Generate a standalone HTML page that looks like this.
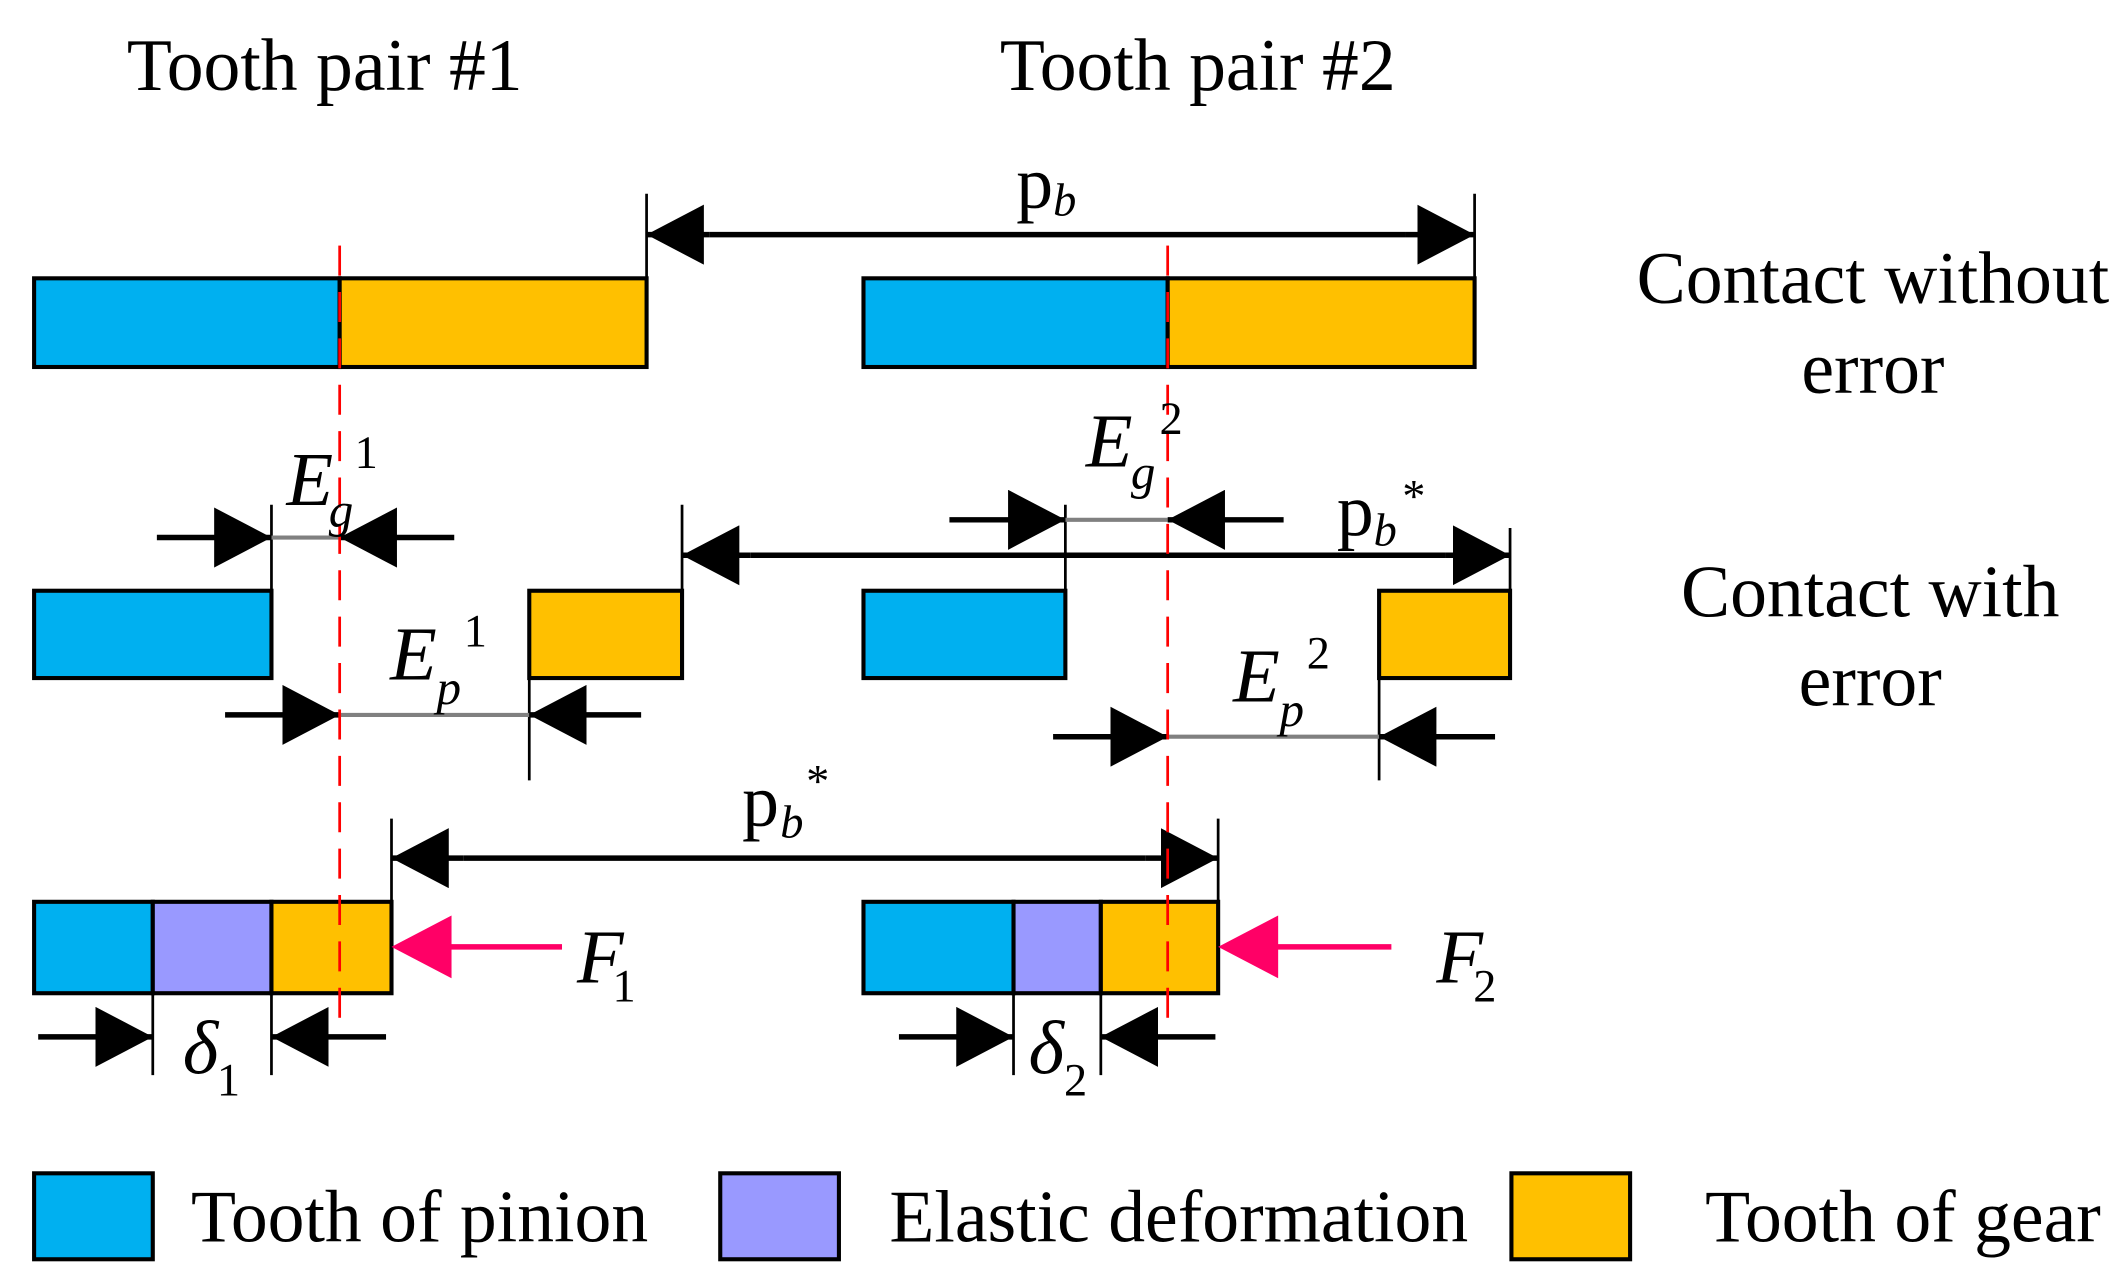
<!DOCTYPE html>
<html><head><meta charset="utf-8"><style>html,body{margin:0;padding:0;background:#fff;}svg{display:block}</style></head>
<body>
<svg width="2128" height="1277" viewBox="0 0 1560 936" preserveAspectRatio="none" xmlns="http://www.w3.org/2000/svg" font-family="'Liberation Serif', serif">
<defs>
<marker id="ah" markerWidth="42" markerHeight="44" refX="42" refY="22" orient="auto" markerUnits="userSpaceOnUse" viewBox="0 0 42 44"><path d="M0,0 L42,22 L0,44 z" fill="#000"/></marker>
</defs>
<g font-size="54" fill="#000">
<text x="93" y="66">Tooth pair #1</text>
<text x="733" y="66">Tooth pair #2</text>
<text x="1373" y="222" text-anchor="middle">Contact without</text>
<text x="1373" y="288" text-anchor="middle">error</text>
<text x="1371" y="452" text-anchor="middle">Contact with</text>
<text x="1371" y="517" text-anchor="middle">error</text>
<text x="140" y="910">Tooth of pinion</text>
<text x="652" y="910">Elastic deformation</text>
<text x="1250" y="910">Tooth of gear</text>
</g>
<g stroke="#000" stroke-width="3">
<rect x="25" y="204" width="224" height="65" fill="#00B0F0"/>
<rect x="249" y="204" width="225" height="65" fill="#FFC000"/>
<rect x="633" y="204" width="223" height="65" fill="#00B0F0"/>
<rect x="856" y="204" width="225" height="65" fill="#FFC000"/>
<rect x="25" y="433" width="174" height="64" fill="#00B0F0"/>
<rect x="388" y="433" width="112" height="64" fill="#FFC000"/>
<rect x="633" y="433" width="148" height="64" fill="#00B0F0"/>
<rect x="1011" y="433" width="96" height="64" fill="#FFC000"/>
<rect x="25" y="661" width="87" height="67" fill="#00B0F0"/>
<rect x="112" y="661" width="87" height="67" fill="#9999FF"/>
<rect x="199" y="661" width="88" height="67" fill="#FFC000"/>
<rect x="633" y="661" width="110" height="67" fill="#00B0F0"/>
<rect x="743" y="661" width="64" height="67" fill="#9999FF"/>
<rect x="807" y="661" width="86" height="67" fill="#FFC000"/>
<rect x="25" y="860" width="87" height="63" fill="#00B0F0"/>
<rect x="528" y="860" width="87" height="63" fill="#9999FF"/>
<rect x="1108" y="860" width="87" height="63" fill="#FFC000"/>
</g>
<g stroke="#000" stroke-width="2" fill="none">
<line x1="474" y1="142" x2="474" y2="204"/>
<line x1="1081" y1="142" x2="1081" y2="204"/>
<line x1="199" y1="370" x2="199" y2="433"/>
<line x1="500" y1="370" x2="500" y2="433"/>
<line x1="781" y1="370" x2="781" y2="433"/>
<line x1="1107" y1="387" x2="1107" y2="433"/>
<line x1="388" y1="497" x2="388" y2="572"/>
<line x1="1011" y1="497" x2="1011" y2="572"/>
<line x1="287" y1="600" x2="287" y2="661"/>
<line x1="893" y1="600" x2="893" y2="661"/>
<line x1="112" y1="728" x2="112" y2="788"/>
<line x1="199" y1="728" x2="199" y2="788"/>
<line x1="743" y1="728" x2="743" y2="788"/>
<line x1="807" y1="728" x2="807" y2="788"/>
</g>
<g stroke="#808080" stroke-width="3">
<line x1="199" y1="394" x2="249" y2="394"/>
<line x1="781" y1="381" x2="856" y2="381"/>
<line x1="249" y1="524" x2="388" y2="524"/>
<line x1="856" y1="540" x2="1011" y2="540"/>
</g>
<g stroke="#000" stroke-width="4" marker-end="url(#ah)">
<line x1="520" y1="172" x2="474" y2="172"/>
<line x1="1030" y1="172" x2="1081" y2="172"/>
<line x1="550" y1="407" x2="500" y2="407"/>
<line x1="1060" y1="407" x2="1107" y2="407"/>
<line x1="340" y1="629" x2="287" y2="629"/>
<line x1="840" y1="629" x2="893" y2="629"/>
<line x1="115" y1="394" x2="199" y2="394"/>
<line x1="333" y1="394" x2="249" y2="394"/>
<line x1="696" y1="381" x2="781" y2="381"/>
<line x1="941" y1="381" x2="856" y2="381"/>
<line x1="165" y1="524" x2="249" y2="524"/>
<line x1="470" y1="524" x2="388" y2="524"/>
<line x1="772" y1="540" x2="856" y2="540"/>
<line x1="1096" y1="540" x2="1011" y2="540"/>
<line x1="28" y1="760" x2="112" y2="760"/>
<line x1="283" y1="760" x2="199" y2="760"/>
<line x1="659" y1="760" x2="743" y2="760"/>
<line x1="891" y1="760" x2="807" y2="760"/>
</g>
<g stroke="#000" stroke-width="4">
<line x1="520" y1="172" x2="1030" y2="172"/>
<line x1="550" y1="407" x2="1060" y2="407"/>
<line x1="340" y1="629" x2="840" y2="629"/>
</g>
<g stroke="#FF0066" stroke-width="4">
<line x1="412" y1="694" x2="325" y2="694"/>
<line x1="1020" y1="694" x2="933" y2="694"/>
</g>
<path d="M287,694 L331,671 L331,717 z" fill="#FF0066"/>
<path d="M893,694 L937,671 L937,717 z" fill="#FF0066"/>
<g stroke="#FF0000" stroke-width="2" stroke-dasharray="22,12">
<line x1="249" y1="180" x2="249" y2="755"/>
<line x1="856" y1="180" x2="856" y2="750"/>
</g>
<g fill="#000">
<text x="745" y="152" font-size="54">p</text><text x="772" y="158" font-size="34" font-style="italic">b</text>
<text x="210" y="370" font-size="56" font-style="italic">E</text><text x="241" y="386" font-size="36" font-style="italic">g</text><text x="260" y="343" font-size="34">1</text>
<text x="796" y="342" font-size="56" font-style="italic">E</text><text x="829" y="358" font-size="36" font-style="italic">g</text><text x="850" y="318" font-size="34">2</text>
<text x="980" y="392" font-size="54">p</text><text x="1007" y="400" font-size="34" font-style="italic">b</text><text x="1028" y="375" font-size="34">*</text>
<text x="286" y="498" font-size="56" font-style="italic">E</text><text x="320" y="516" font-size="36" font-style="italic">p</text><text x="340" y="474" font-size="34">1</text>
<text x="904" y="514" font-size="56" font-style="italic">E</text><text x="938" y="532" font-size="36" font-style="italic">p</text><text x="958" y="490" font-size="34">2</text>
<text x="544" y="605" font-size="54">p</text><text x="572" y="614" font-size="34" font-style="italic">b</text><text x="591" y="584" font-size="34">*</text>
<text x="423" y="720" font-size="56" font-style="italic">F</text><text x="449" y="734" font-size="34">1</text>
<text x="1053" y="720" font-size="56" font-style="italic">F</text><text x="1080" y="734" font-size="34">2</text>
<text x="134" y="787" font-size="56" font-style="italic">δ</text><text x="159" y="803" font-size="34">1</text>
<text x="754" y="787" font-size="56" font-style="italic">δ</text><text x="780" y="803" font-size="34">2</text>
</g>
</svg>
</body></html>
